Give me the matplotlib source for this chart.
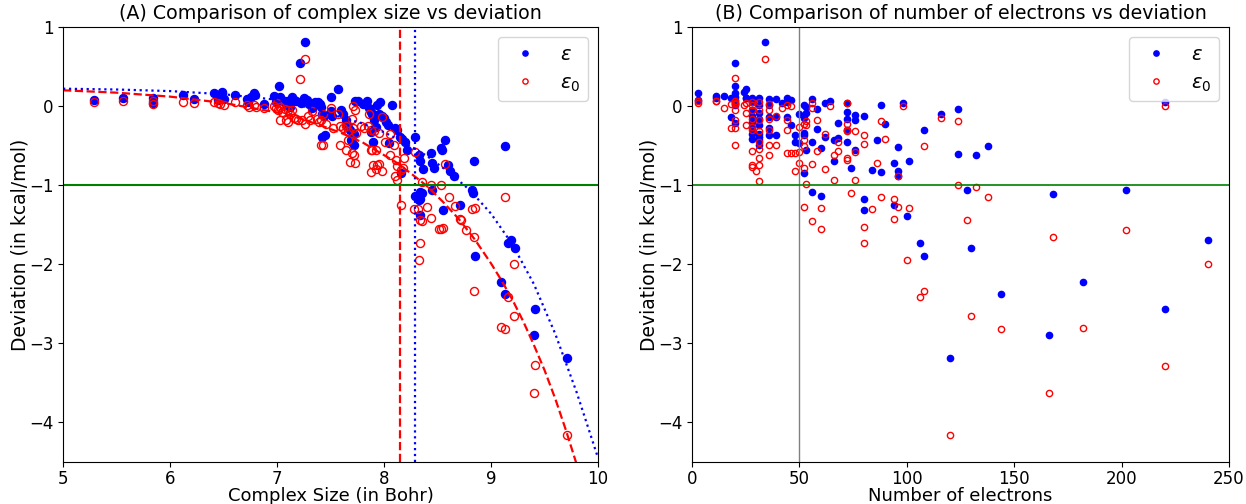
import matplotlib
matplotlib.use("Agg")
import matplotlib.pyplot as plt

# ---- panel A: complex size (Bohr) vs deviation ----
size_eps = [5.29, 5.56, 5.84, 5.84, 6.12, 6.22, 6.41, 6.45, 6.49, 6.49, 6.47, 6.50, 6.61, 6.72, 6.73,
            6.76, 6.78, 6.79, 6.88, 6.97, 6.99, 7.02, 7.03, 7.04, 7.06, 7.08, 7.09, 7.10, 7.12,
            7.14, 7.16, 7.18, 7.21, 7.26, 7.22, 7.25, 7.28, 7.30, 7.33, 7.35,
            7.38, 7.40, 7.41, 7.42, 7.44, 7.45, 7.42, 7.50, 7.50, 7.51, 7.57,
            7.60, 7.62, 7.64, 7.65, 7.66, 7.68, 7.69, 7.70, 7.72,
            7.73, 7.76, 7.80, 7.84, 7.86, 7.88, 7.89, 7.90, 7.91, 7.92, 7.88, 7.90, 7.72,
            7.93, 7.95, 7.98, 8.00, 8.02, 8.04, 8.07, 8.10, 8.12, 8.15, 8.17, 8.20, 8.21, 8.16, 7.96, 8.05,
            8.29, 8.29, 8.33, 8.34, 8.36, 8.35, 8.34, 8.33, 8.34, 8.34,
            8.44, 8.45, 8.45, 8.53, 8.54, 8.57, 8.60, 8.55, 8.62, 8.65, 8.71, 8.47,
            8.82, 8.84, 8.83, 8.85, 9.09, 9.13, 9.13, 9.16, 9.19, 9.22, 9.40, 9.41, 9.71]
eps_A = [0.08, 0.10, 0.10, 0.04, 0.14, 0.09, 0.16, 0.08, 0.18, 0.16, 0.10, 0.085, 0.14, 0.085, 0.055,
         0.12, 0.17, 0.135, 0.03, 0.13, 0.05, 0.25, 0.11, 0.09, 0.06, 0.03, 0.07, 0.02, -0.01,
         0.11, 0.08, 0.06, 0.55, 0.81, 0.04, 0.10, 0.08, 0.03, -0.02, 0.05,
         0.05, 0.03, -0.01, -0.10, -0.12, -0.37, -0.39, 0.11, -0.06, -0.12, 0.22,
         -0.05, -0.10, -0.18, -0.24, -0.27, -0.30, -0.43, -0.45, -0.49,
         0.06, 0.07, 0.03, 0.07, -0.02, -0.08, -0.10, -0.12, -0.18, -0.27, -0.33, -0.45, -0.35,
         0.013, -0.10, -0.13, -0.15, -0.20, -0.24, 0.01, -0.28, -0.30, -0.39, -0.42, -0.45, -0.56, -0.85, 0.05, -0.47,
         -0.39, -1.14, -0.62, -0.70, -0.80, -1.10, -1.18, -1.19, -1.38, -1.08,
         -0.59, -0.72, -1.06, -0.53, -0.56, -0.43, -0.75, -1.31, -0.82, -0.88, -1.25, -0.78,
         -1.06, -0.69, -1.10, -1.90, -2.23, -2.37, -0.51, -1.73, -1.69, -1.80, -2.90, -2.56, -3.18]

size_eps0 = [5.29, 5.56, 5.84, 5.84, 6.12, 6.22, 6.41, 6.45, 6.50, 6.47, 6.61, 6.72, 6.74, 6.78, 6.80, 6.88,
             6.97, 6.99, 7.01, 7.03, 7.05, 7.08, 7.10, 7.12, 7.21, 7.26,
             7.00, 7.03, 7.07, 7.10, 7.14, 7.16, 7.18, 7.20, 7.23, 7.26, 7.29, 7.31, 7.33,
             7.37, 7.39, 7.41, 7.43, 7.46, 7.50, 7.52, 7.57, 7.59, 7.62, 7.64, 7.66, 7.70, 7.71,
             7.74, 7.78, 7.81, 7.85, 7.88, 7.91, 7.95, 7.86, 7.71, 7.73, 7.41, 7.43,
             7.59, 7.64, 7.66, 7.70, 7.72, 7.68, 7.73, 7.88, 7.92, 7.88, 7.93, 7.95,
             7.89, 7.90, 7.92, 7.98, 7.98, 8.06, 8.01, 8.09, 8.06, 8.11, 8.12, 8.16, 8.19, 8.18, 8.10, 8.12,
             8.16, 8.29, 8.28, 8.32, 8.35, 8.34, 8.33, 8.34, 8.35, 8.44, 8.53, 8.40, 8.44, 8.51, 8.53, 8.55,
             8.57, 8.61, 8.66, 8.71, 8.72, 8.77, 8.85, 8.82, 8.84, 8.84,
             9.09, 9.13, 9.13, 9.16, 9.21, 9.21, 9.40, 9.41, 9.71]
eps0_A = [0.05, 0.07, 0.07, 0.03, 0.055, 0.04, 0.055, 0.04, 0.02, 0.03, 0.055, 0.015, -0.01, 0.015, -0.01, -0.03,
          0.0, -0.02, -0.05, -0.17, -0.08, -0.18, -0.20, -0.10, 0.34, 0.60,
          0.04, -0.01, -0.04, -0.05, -0.05, -0.15, -0.16, -0.18, -0.18, -0.22, -0.12, -0.18, -0.06,
          -0.16, -0.20, -0.17, -0.10, -0.22, -0.02, -0.28, -0.10, -0.25, -0.28, -0.25, -0.32, -0.16, -0.28,
          -0.34, -0.25, -0.28, -0.25, -0.30, -0.32, -0.34, -0.10, 0.0, -0.05, -0.49, -0.49,
          -0.49, -0.55, -0.43, -0.59, -0.62, -0.71, -0.72, -0.55, -0.56, -0.83, -0.75, -0.73,
          -0.56, -0.75, -0.79, -0.82, -0.14, -0.35, -0.45, -0.49, -0.62, -0.68, -0.76, -0.81, -0.66, -0.78, -0.89, -0.94,
          -1.25, -0.58, -1.30, -1.30, -1.45, -1.73, -1.95, -1.44, -0.96, -1.0, -1.0, -1.27, -1.42, -1.55, -1.56, -1.54,
          -0.73, -1.15, -1.26, -1.43, -1.44, -1.57, -1.29, -1.30, -1.65, -2.34,
          -2.79, -2.82, -1.15, -2.41, -2.00, -2.65, -3.63, -3.27, -4.16]

# fitted trend curves
fit_x_eps0 = [5.0, 5.5, 6.0, 6.5, 7.0, 7.2, 7.4, 7.6, 7.8, 7.95, 8.1, 8.25, 8.4, 8.55, 8.7, 8.85,
              9.0, 9.1, 9.2, 9.3, 9.4, 9.5, 9.6, 9.7, 9.8]
fit_eps0 = [0.20, 0.17, 0.12, 0.04, -0.08, -0.15, -0.24, -0.34, -0.46, -0.58, -0.70, -0.85, -1.01, -1.21,
            -1.43, -1.69, -1.99, -2.21, -2.45, -2.72, -3.02, -3.34, -3.70, -4.10, -4.53]
fit_x_eps = [5.0, 5.5, 6.0, 6.5, 7.0, 7.3, 7.5, 7.8, 8.0, 8.2, 8.4, 8.6, 8.8, 9.0, 9.2, 9.4, 9.6, 9.8, 10.0]
fit_eps = [0.22, 0.21, 0.19, 0.15, 0.08, -0.02, -0.10, -0.22, -0.33, -0.47, -0.63, -0.83, -1.06, -1.36,
           -1.75, -2.25, -2.88, -3.62, -4.45]
cut_eps0 = 8.15
cut_eps = 8.29

# ---- panel B: number of electrons vs deviation ----
elec_eps = [3, 3, 11, 11, 15, 18, 18, 20, 20, 20, 20, 20, 20, 20, 20, 24, 25, 25, 25,
            28, 28, 28, 28, 28, 28, 28, 28, 31, 31, 31, 31, 31, 31, 31, 31, 31, 34,
            36, 36, 36, 36, 36, 39, 39, 39, 42, 44, 44, 44, 46, 46, 48, 48, 50, 50,
            52, 52, 52, 52, 52, 53, 53, 53, 56, 56, 56, 58, 58, 60, 60, 62, 62, 64, 66, 66, 68, 68,
            72, 72, 72, 72, 72, 74, 76, 76, 76, 80, 80, 80, 84, 86, 88, 88, 90, 94, 94, 96, 96, 96,
            98, 100, 101, 106, 108, 108, 116, 120, 124, 124, 128, 130, 132, 138, 144, 166, 168, 182,
            202, 220, 220, 240]
eps_B = [0.16, 0.08, 0.13, 0.10, 0.13, 0.10, -0.14, 0.55, 0.25, 0.17, 0.12, 0.08, 0.04, 0.01, -0.21, 0.18,
         0.22, 0.10, 0.10,
         0.10, 0.055, -0.05, -0.12, -0.20, -0.28, -0.35, -0.41,
         0.10, 0.013, -0.09, -0.16, -0.24, -0.35, -0.39, -0.43, -0.49, 0.81,
         0.085, 0.013, -0.14, -0.28, -0.37, 0.085, -0.14, -0.37, 0.04, 0.10, 0.055, -0.14, 0.08, -0.24,
         -0.37, -0.45, -0.105, -0.47,
         0.013, -0.156, -0.34, -0.37, -0.85, -0.01, -0.09, -0.56, 0.084, -0.45, -1.09, -0.04, -0.29,
         -0.53, -1.14, 0.034, -0.39, 0.067, -0.43, -0.70, -0.21, -0.40,
         0.04, -0.07, -0.16, -0.30, -0.45, -0.78, -0.11, -0.17, -0.56, -0.12, -1.18, -1.31, -0.81, -0.43,
         0.013, -0.83, -0.23, -0.72, -1.25, -0.52, -0.82, -0.88,
         0.04, -1.39, -0.69, -1.73, -1.90, -0.30, -0.105, -3.18, -0.035, -0.60, -1.06, -1.80, -0.62,
         -0.51, -2.37, -2.90, -1.11, -2.23, -1.06, 0.047, -2.56, -1.69]

elec_eps0 = [3, 3, 11, 11, 15, 18, 18, 20, 20, 20, 20, 20, 20, 20, 20, 24, 25, 25, 25,
             28, 28, 28, 28, 28, 28, 28, 28, 28, 30, 31, 31, 31, 31, 31, 31, 31, 31, 31, 34,
             36, 36, 36, 36, 36, 36, 39, 39, 42, 44, 44, 44, 44, 46, 46, 48, 48, 50, 50, 50,
             52, 52, 52, 52, 52, 53, 53, 53, 56, 56, 56, 56, 58, 58, 60, 60, 62, 62, 64, 66, 66, 68, 68,
             72, 72, 72, 72, 72, 72, 74, 76, 76, 76, 80, 80, 80, 80, 84, 86, 88, 88, 90, 94, 94, 96, 96,
             98, 100, 101, 106, 108, 108, 116, 120, 124, 124, 128, 130, 132, 138, 144, 166, 168, 182,
             202, 220, 220, 240]
eps0_B = [0.07, 0.04, 0.07, 0.06, -0.02, 0.03, -0.28, 0.35, 0.06, 0.04, 0.03, -0.05, -0.18, -0.28, -0.49,
          0.01, 0.035, -0.09, -0.24,
          0.055, 0.013, -0.05, -0.16, -0.26, -0.30, -0.57, -0.75, -0.77, -0.82,
          0.055, -0.05, -0.18, -0.32, -0.45, -0.54, -0.66, -0.75, -0.95, 0.60,
          0.03, -0.05, -0.16, -0.30, -0.49, -0.62, -0.12, -0.49, -0.02, 0.013, -0.18, -0.30, -0.59,
          0.00, -0.59, -0.59, -0.82, -0.26, -0.58, -0.72,
          -0.22, -0.43, -0.51, -0.78, -1.27, -0.19, -0.24, -0.99, 0.04, -0.03, -0.73, -1.45, -0.18, -0.57,
          -1.29, -1.56, -0.35, -0.79, 0.0, -0.62, -0.94, -0.45, -0.57,
          0.04, -0.22, -0.30, -0.32, -0.66, -0.68, -1.10, -0.31, -0.58, -0.94, -0.37, -0.48, -1.53, -1.73,
          -1.30, -0.72, -0.19, -1.15, -0.42, -1.17, -1.43, -0.89, -1.27,
          0.0, -1.95, -1.29, -2.41, -2.34, -0.51, -0.15, -4.16, -0.19, -1.0, -1.44, -2.65, -1.02,
          -1.15, -2.82, -3.63, -1.65, -2.80, -1.57, 0.003, -3.28, -2.00]
elec_cut = 50

threshold = -1

fig = plt.figure(figsize=(12.46, 5.04), dpi=100)
ax1 = fig.add_axes([0.0506, 0.0833, 0.4294, 0.8631])
ax2 = fig.add_axes([0.5554, 0.0833, 0.4310, 0.8631])

# panel A
ax1.plot(size_eps, eps_A, 'o', color='blue', ms=5.8, label=r'$\epsilon$')
ax1.plot(size_eps0, eps0_A, 'o', mfc='none', mec='red', mew=1.0, ms=5.8, label=r'$\epsilon_0$')
ax1.plot(fit_x_eps0, fit_eps0, 'r--', lw=1.6)
ax1.plot(fit_x_eps, fit_eps, 'b:', lw=1.6)
ax1.axvline(cut_eps0, color='red', ls='--', lw=1.6)
ax1.axvline(cut_eps, color='blue', ls=':', lw=1.6)
ax1.axhline(threshold, color='green', lw=1.5)
ax1.set_xlim(5, 10)
ax1.set_ylim(-4.5, 1)
ax1.legend(loc='upper right', fontsize=14, markerscale=0.65)

# panel B
ax2.plot(elec_eps, eps_B, 'o', color='blue', ms=4.5, label=r'$\epsilon$')
ax2.plot(elec_eps0, eps0_B, 'o', mfc='none', mec='red', mew=1.0, ms=4.5, label=r'$\epsilon_0$')
ax2.axvline(elec_cut, color='grey', lw=1)
ax2.axhline(threshold, color='green', lw=1.2)
ax2.set_xlim(0, 250)
ax2.set_ylim(-4.5, 1)
ax2.legend(loc='upper right', fontsize=14, markerscale=0.85)

titles = ['(A) Comparison of complex size vs deviation',
          '(B) Comparison of number of electrons vs deviation']
xlabels = ['Complex Size (in Bohr)', 'Number of electrons']
for ax, title, xlab in zip([ax1, ax2], titles, xlabels):
    ax.set_title(title, fontsize=13.7)
    ax.set_xlabel(xlab, fontsize=13)
    ax.set_ylabel('Deviation (in kcal/mol)', fontsize=13.5)
    ax.xaxis.set_label_coords(0.5, -0.058)
    ax.yaxis.set_label_coords(-0.062, 0.5)
    ax.tick_params(labelsize=12)
    ax.tick_params(axis='x', pad=2.5)

fig.savefig('out.png', dpi=100)
